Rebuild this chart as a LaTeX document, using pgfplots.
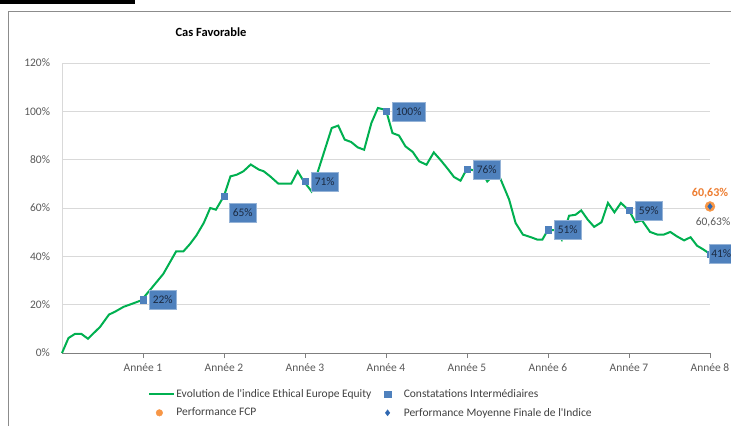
\documentclass[border=0pt]{standalone}
\usepackage{pgfplots}
\pgfplotsset{compat=1.18}
\usepackage{fontspec}
\setmainfont{Carlito}
\definecolor{cgreen}{HTML}{00B050}
\definecolor{cblue}{HTML}{4F81BD}
\definecolor{corange}{HTML}{F79646}
\definecolor{clabor}{HTML}{ED7D31}
\definecolor{cdiam}{HTML}{2E67B1}
\definecolor{cgrid}{HTML}{D9D9D9}
\definecolor{ctext}{HTML}{595959}
\definecolor{cleg}{HTML}{404040}
\definecolor{cframe}{HTML}{8C8C8C}
\definecolor{cboxline}{HTML}{95B3D7}
\definecolor{cboxtext}{HTML}{1B2A41}
\definecolor{caxis}{HTML}{7F7F7F}
\tikzset{lab/.style={fill=cblue, draw=cboxline, line width=0.6pt, text=cboxtext,
  font=\fontsize{11.5}{13}\selectfont, inner xsep=3.5pt, inner ysep=3pt, minimum height=19pt}}
\pgfplotsset{
  legline/.style={legend image code/.code={\draw[##1] (0pt,0pt) -- (25pt,0pt);}},
  legmark/.style={legend image code/.code={\path (0pt,0pt) (25pt,0pt); \draw[mark repeat=2,mark phase=2,##1] plot coordinates {(0pt,0pt)(10pt,0pt)(20pt,0pt)};}},
  legmarksmall/.style={legend image code/.code={\path (0pt,0pt) (25pt,0pt); \draw[mark repeat=2,mark phase=2,##1,mark size=3.3pt] plot coordinates {(0pt,0pt)(10pt,0pt)(20pt,0pt)};}},
}
\begin{document}
\begin{tikzpicture}[x=1pt,y=1pt]
\useasboundingbox (0,0) rectangle (731,426);
\fill[black] (0,422) rectangle (135,426);
\draw[cframe, line width=1.2pt] (8.5,0) -- (8.5,414.5) -- (731,414.5);
\node[font=\bfseries\fontsize{12.5}{14}\selectfont, text=black] at (211,394) {Cas Favorable};
\begin{axis}[
  at={(62pt,73pt)}, anchor=south west,
  scale only axis, width=648pt, height=290pt,
  xmin=0, xmax=8, ymin=0, ymax=120,
  clip=false,
  axis lines=left,
  x axis line style={-, draw=caxis, line width=1pt},
  y axis line style={-, draw=cgrid, line width=1pt},
  ytick={0,20,40,60,80,100,120},
  yticklabels={0\%,20\%,40\%,60\%,80\%,100\%,120\%},
  xtick={1,2,3,4,5,6,7,8},
  xticklabels={Année 1,Année 2,Année 3,Année 4,Année 5,Année 6,Année 7,Année 8},
  ymajorgrids, grid style={cgrid, line width=0.9pt},
  tick label style={font=\fontsize{11.5}{13}\selectfont, text=ctext},
  /pgf/number format/assume math mode=true,
  xtick style={draw=caxis, line width=1pt},
  ytick style={draw=none},
  xtick align=outside, major tick length=5pt,
  yticklabel style={xshift=-6pt},
  xticklabel style={yshift=-2pt},
  legend columns=2,
  legend cell align=left,
  legend style={at={(0.133,-0.122)}, anchor=north west, draw=none, fill=none,
    font=\fontsize{11.5}{13}\selectfont, text=cleg, inner sep=0pt, row sep=7pt,
    nodes={inner sep=1pt}},
]
\addplot[cgreen, line width=2pt, mark=none, legline] coordinates {
(0,0) (0.08,6.2) (0.16,7.9) (0.24,7.9) (0.32,5.9) (0.47,10.8) (0.58,15.9) (0.65,17)
(0.76,19.1) (0.86,20.3) (0.98,21.8) (1.09,26.2) (1.25,32.7) (1.41,42.1) (1.50,42.1)
(1.58,45.1) (1.66,48.7) (1.75,53.8) (1.83,60) (1.90,59.3) (2.00,65) (2.08,73.1)
(2.16,73.8) (2.24,75.2) (2.33,78) (2.43,75.9) (2.49,75.2) (2.57,73.1) (2.67,70.1)
(2.83,70.1) (2.91,75.2) (2.98,71.3) (3.08,66.9) (3.16,75.2) (3.33,93.1) (3.41,94.1)
(3.49,88.3) (3.57,87.3) (3.65,85.1) (3.73,84.1) (3.82,95.2) (3.90,101.4) (4.00,100.5)
(4.08,91) (4.16,90) (4.24,85.5) (4.33,83.2) (4.41,79.3) (4.50,77.9) (4.59,83)
(4.68,79.6) (4.76,76.3) (4.84,72.8) (4.92,71.3) (5.00,76.3) (5.09,75.5) (5.19,74.5)
(5.25,71) (5.31,73.1) (5.40,73.1) (5.52,63.5) (5.60,53.8) (5.69,49) (5.79,47.9)
(5.87,46.9) (5.93,46.9) (6.00,51) (6.10,50.8) (6.17,46.9) (6.26,56.8) (6.34,57.2)
(6.41,59) (6.49,55.2) (6.57,52.2) (6.66,54.1) (6.74,62.1) (6.82,58.2) (6.90,62.1)
(7.00,59) (7.08,54.1) (7.16,54.9) (7.26,50.1) (7.35,49) (7.43,49) (7.51,50.1)
(7.59,48.3) (7.68,46.6) (7.76,47.9) (7.84,44.4) (7.92,42.8) (8.00,41)
};
\addlegendentry{\makebox[200pt][l]{Evolution de l\textquotesingle indice Ethical Europe Equity}}
\addplot[only marks, mark=square*, mark size=3.2pt, color=cblue, legmark,
  point meta=explicit symbolic, nodes near coords,
  every node near coord/.append style={lab, anchor=west, xshift=6pt}] coordinates {
(1,22) [22\%] (3,71) [71\%] (4,100) [100\%] (5,76) [76\%] (6,51) [51\%] (7,59) [59\%]
};
\addlegendentry{Constatations Intermédiaires}
\addplot[only marks, mark=square*, mark size=3.2pt, color=cblue, forget plot,
  point meta=explicit symbolic, nodes near coords,
  every node near coord/.append style={lab, anchor=north west, xshift=5pt, yshift=-7pt}] coordinates {
(2,65) [65\%]
};
\addplot[only marks, mark=square*, mark size=3.2pt, color=cblue, forget plot,
  point meta=explicit symbolic, nodes near coords,
  every node near coord/.append style={lab, anchor=west, xshift=-1pt, inner xsep=2pt}] coordinates {
(8,41) [41\%]
};
\addplot[only marks, mark=*, mark size=5pt, color=corange, legmarksmall,
  nodes near coords={\textbf{60,63\%}},
  every node near coord/.append style={anchor=south, yshift=5pt, text=clabor, font=\fontsize{12}{14}\selectfont}] coordinates {
(8,60.63)
};
\addlegendentry{\makebox[200pt][l]{Performance FCP}}
\addplot[only marks, mark=diamond*, mark size=3pt, color=cdiam, legmark,
  nodes near coords={60,63\%},
  every node near coord/.append style={anchor=north, xshift=3pt, yshift=-8pt, text=ctext, font=\fontsize{11.5}{13}\selectfont}] coordinates {
(8,60.63)
};
\addlegendentry{Performance Moyenne Finale de l\textquotesingle Indice}
\end{axis}
\end{tikzpicture}
\end{document}
